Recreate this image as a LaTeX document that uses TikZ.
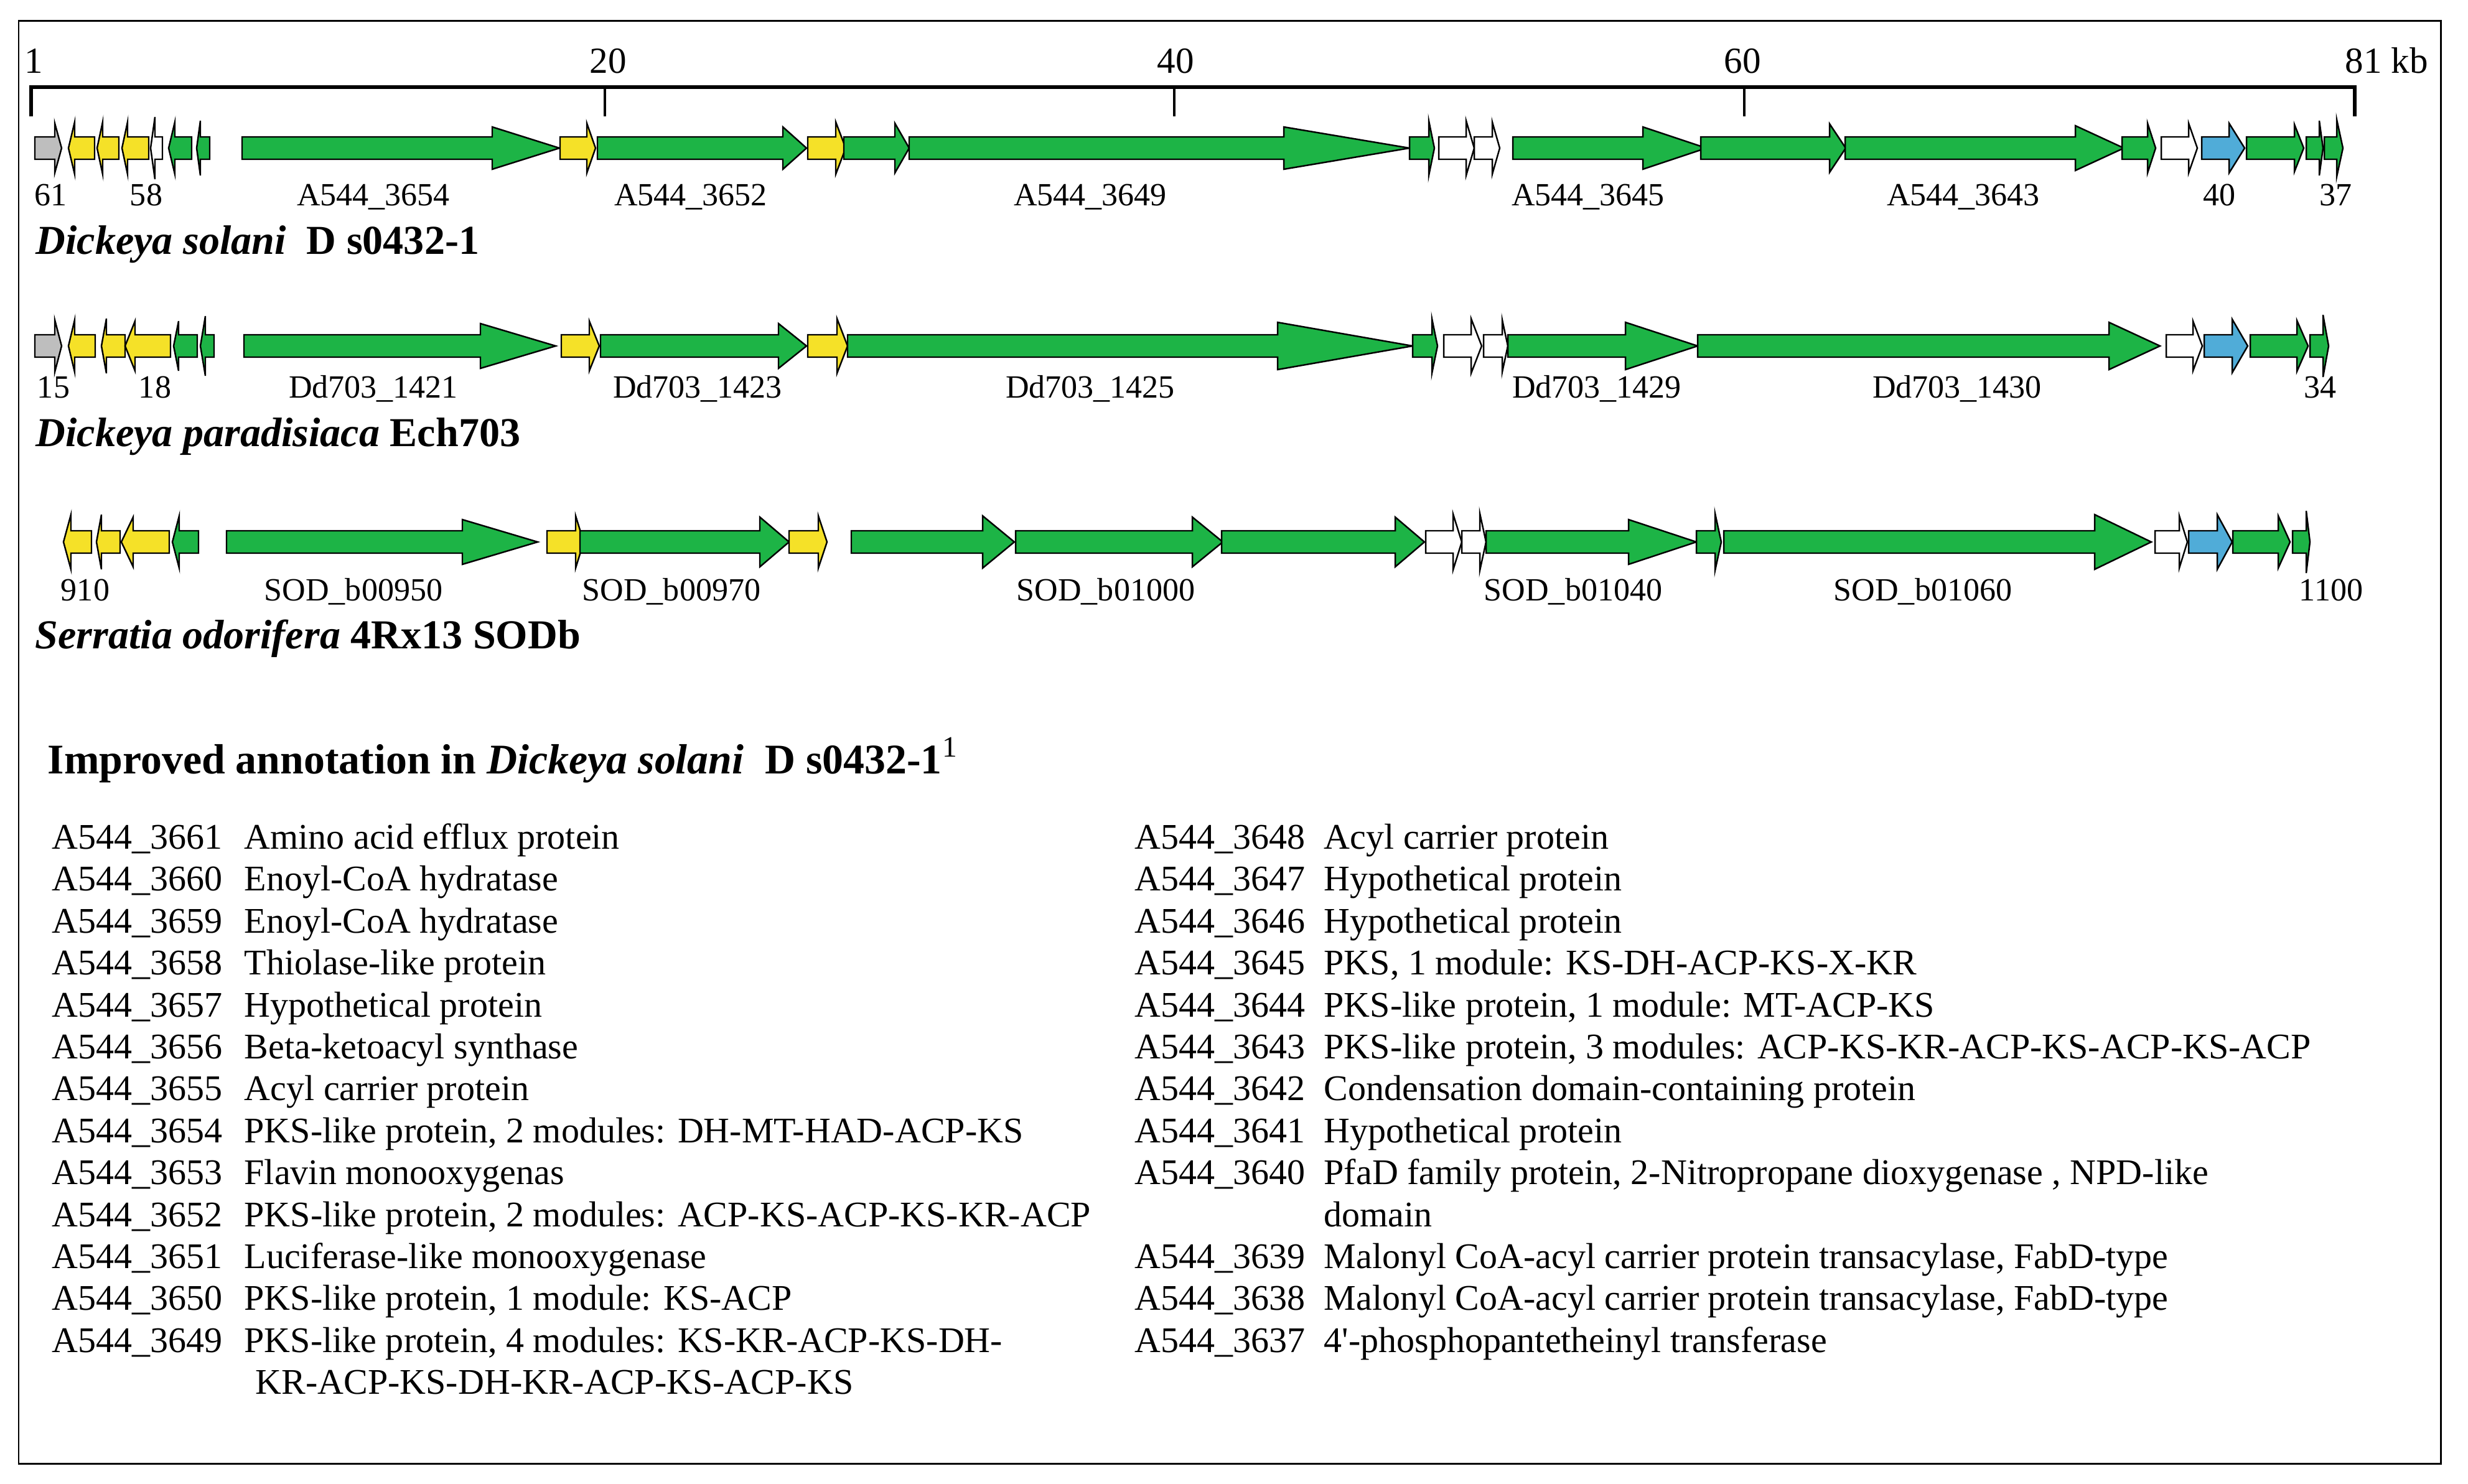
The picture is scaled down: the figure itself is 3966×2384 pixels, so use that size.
\documentclass[tikz,border=0pt]{standalone}
\usepackage{fontspec}
\setmainfont{Liberation Serif}
\definecolor{genegreen}{RGB}{29,180,70}
\definecolor{geneyellow}{RGB}{245,225,40}
\definecolor{genegrey}{RGB}{190,190,190}
\definecolor{geneblue}{RGB}{80,172,216}
\tikzset{genebox/.style={draw=black,line width=0.7pt,line join=miter},
	genelab/.style={anchor=base,font=\fontsize{14.8}{17}\selectfont,inner sep=0pt},
	scalelab/.style={anchor=base,font=\fontsize{16.8}{19}\selectfont,inner sep=0pt},
	species/.style={anchor=base west,font=\fontsize{18.8}{22}\selectfont\bfseries,inner sep=0pt},
	anno/.style={anchor=base west,font=\fontsize{16.5}{19}\selectfont,inner sep=0pt}}
% colour, y, tail x, head base x, tip x, head half height
\newcommand{\gene}[6]{%
	\filldraw[genebox,fill=#1] (#3,#2-18) -- (#4,#2-18) -- (#4,#2-#6) -- (#5,#2) -- (#4,#2+#6) -- (#4,#2+18) -- (#3,#2+18) -- cycle;}
\begin{document}
\begin{tikzpicture}[x=0.01cm,y=-0.01cm]
	\useasboundingbox (0,0) rectangle (3966,2384);
	\draw[line width=0.85pt] (30,33) rectangle (3922,2352);
	
	\draw[line width=1.7pt] (50,187) -- (50,140) -- (3784,140) -- (3784,187);
	\draw[line width=1.1pt] (972,140) -- (972,187);
	\draw[line width=1.1pt] (1887,140) -- (1887,187);
	\draw[line width=1.1pt] (2803,140) -- (2803,187);
	\node[scalelab] (s1) at (54,117) {1};
	\node[scalelab] (s20) at (977,117) {20};
	\node[scalelab] (s40) at (1889,117) {40};
	\node[scalelab] (s60) at (2800,117) {60};
	\node[scalelab,anchor=base west] (s81) at (3768,117) {81 kb};
	
	\gene{genegrey}{238}{56}{88}{99}{40}
	\gene{geneyellow}{238}{152}{120}{110}{42}
	\gene{geneyellow}{238}{191}{165}{156}{42}
	\gene{geneyellow}{238}{239}{205}{196}{42}
	\gene{white}{238}{261}{249}{242}{50}
	\gene{genegreen}{238}{308}{281}{271}{42}
	\gene{genegreen}{238}{337}{322}{316}{44}
	\gene{genegreen}{238}{389}{791}{899}{34}
	\gene{geneyellow}{238}{900}{943}{957}{40}
	\gene{genegreen}{238}{960}{1258}{1296}{34}
	\gene{geneyellow}{238}{1298}{1343}{1359}{42}
	\gene{genegreen}{238}{1356}{1438}{1461}{40}
	\gene{genegreen}{238}{1461}{2063}{2265}{34}
	\gene{genegreen}{238}{2265}{2296}{2305}{44}
	\gene{white}{238}{2312}{2356}{2369}{44}
	\gene{white}{238}{2369}{2398}{2410}{42}
	\gene{genegreen}{238}{2431}{2640}{2742}{34}
	\gene{genegreen}{238}{2733}{2940}{2966}{39}
	\gene{genegreen}{238}{2965}{3335}{3413}{36}
	\gene{genegreen}{238}{3410}{3451}{3464}{40}
	\gene{white}{238}{3473}{3517}{3531}{40}
	\gene{geneblue}{238}{3538}{3582}{3607}{40}
	\gene{genegreen}{238}{3610}{3687}{3702}{38}
	\gene{genegreen}{238}{3706}{3727}{3733}{44}
	\gene{genegreen}{238}{3735}{3755}{3765}{46}
	\node[genelab] (a61) at (82,330) {61};
	\node[genelab] (a58) at (235,330) {58};
	\node[genelab] (a54) at (600,330) {A544\_3654};
	\node[genelab] (a52) at (1110,330) {A544\_3652};
	\node[genelab] (a49) at (1752,330) {A544\_3649};
	\node[genelab] (a45) at (2552,330) {A544\_3645};
	\node[genelab] (a43) at (3155,330) {A544\_3643};
	\node[genelab] (a40) at (3566,330) {40};
	\node[genelab] (a37) at (3753,330) {37};
	\node[species] (t1) at (57,408) {\itshape Dickeya solani\upshape\ \ D s0432-1};
	
	\gene{genegrey}{556}{56}{88}{99}{42}
	\gene{geneyellow}{556}{153}{120}{110}{42}
	\gene{geneyellow}{556}{201}{171}{163}{44}
	\gene{geneyellow}{556}{274}{217}{201}{40}
	\gene{genegreen}{556}{317}{287}{279}{40}
	\gene{genegreen}{556}{344}{330}{322}{48}
	\gene{genegreen}{556}{392}{772}{893}{36}
	\gene{geneyellow}{556}{902}{947}{963}{40}
	\gene{genegreen}{556}{965}{1251}{1296}{36}
	\gene{geneyellow}{556}{1298}{1345}{1362}{44}
	\gene{genegreen}{556}{1362}{2053}{2270}{38}
	\gene{genegreen}{556}{2270}{2301}{2310}{44}
	\gene{white}{556}{2320}{2364}{2381}{44}
	\gene{white}{556}{2384}{2414}{2423}{42}
	\gene{genegreen}{556}{2423}{2612}{2728}{38}
	\gene{genegreen}{556}{2728}{3389}{3471}{38}
	\gene{white}{556}{3481}{3524}{3539}{40}
	\gene{geneblue}{556}{3542}{3587}{3612}{43}
	\gene{genegreen}{556}{3616}{3691}{3709}{41}
	\gene{genegreen}{556}{3712}{3733}{3742}{50}
	\node[genelab] (b15) at (86,639) {15};
	\node[genelab] (b18) at (249,639) {18};
	\node[genelab] (b21) at (600,639) {Dd703\_1421};
	\node[genelab] (b23) at (1121,639) {Dd703\_1423};
	\node[genelab] (b25) at (1752,639) {Dd703\_1425};
	\node[genelab] (b29) at (2566,639) {Dd703\_1429};
	\node[genelab] (b30) at (3145,639) {Dd703\_1430};
	\node[genelab] (b34) at (3728,639) {34};
	\node[species] (t2) at (57,717) {\itshape Dickeya paradisiaca\upshape\ Ech703};
	
	\gene{geneyellow}{871}{147}{114}{102}{44}
	\gene{geneyellow}{871}{193}{163}{155}{44}
	\gene{geneyellow}{871}{272}{214}{195}{40}
	\gene{genegreen}{871}{319}{288}{277}{42}
	\gene{genegreen}{871}{364}{743}{864}{36}
	\gene{geneyellow}{871}{879}{925}{938}{42}
	\gene{genegreen}{871}{932}{1221}{1268}{40}
	\gene{geneyellow}{871}{1268}{1315}{1329}{42}
	\gene{genegreen}{871}{1368}{1579}{1630}{42}
	\gene{genegreen}{871}{1632}{1916}{1965}{40}
	\gene{genegreen}{871}{1963}{2242}{2289}{40}
	\gene{white}{871}{2291}{2335}{2349}{45}
	\gene{white}{871}{2349}{2378}{2388}{46}
	\gene{genegreen}{871}{2388}{2617}{2726}{36}
	\gene{genegreen}{871}{2726}{2756}{2766}{46}
	\gene{genegreen}{871}{2770}{3366}{3457}{44}
	\gene{white}{871}{3463}{3502}{3515}{42}
	\gene{geneblue}{871}{3517}{3563}{3587}{44}
	\gene{genegreen}{871}{3588}{3661}{3680}{42}
	\gene{genegreen}{871}{3684}{3706}{3712}{50}
	\node[genelab] (c910) at (137,965) {910};
	\node[genelab] (c950) at (568,965) {SOD\_b00950};
	\node[genelab] (c970) at (1079,965) {SOD\_b00970};
	\node[genelab] (c1000) at (1777,965) {SOD\_b01000};
	\node[genelab] (c1040) at (2528,965) {SOD\_b01040};
	\node[genelab] (c1060) at (3090,965) {SOD\_b01060};
	\node[genelab] (c1100) at (3746,965) {1100};
	\node[species] (t3) at (56,1042) {\itshape Serratia odorifera\upshape\ 4Rx13 SODb};
	
	\node[species,font=\fontsize{19.3}{22}\selectfont\bfseries] (ann) at (76,1243) {Improved annotation in \itshape Dickeya solani\upshape\ \ D s0432-1\textsuperscript{\mdseries 1}};
	
	\node[anno] (l1) at (83,1364) {A544\_3661};
	\node[anno] (l2) at (83,1431) {A544\_3660};
	\node[anno] (l3) at (83,1499) {A544\_3659};
	\node[anno] (l4) at (83,1566) {A544\_3658};
	\node[anno] (l5) at (83,1634) {A544\_3657};
	\node[anno] (l6) at (83,1701) {A544\_3656};
	\node[anno] (l7) at (83,1768) {A544\_3655};
	\node[anno] (l8) at (83,1836) {A544\_3654};
	\node[anno] (l9) at (83,1903) {A544\_3653};
	\node[anno] (l10) at (83,1971) {A544\_3652};
	\node[anno] (l11) at (83,2038) {A544\_3651};
	\node[anno] (l12) at (83,2105) {A544\_3650};
	\node[anno] (l13) at (83,2173) {A544\_3649};
	\node[anno] (ld1) at (392,1364) {Amino acid efflux protein};
	\node[anno] (ld2) at (392,1431) {Enoyl-CoA hydratase};
	\node[anno] (ld3) at (392,1499) {Enoyl-CoA hydratase};
	\node[anno] (ld4) at (392,1566) {Thiolase-like protein};
	\node[anno] (ld5) at (392,1634) {Hypothetical protein};
	\node[anno] (ld6) at (392,1701) {Beta-ketoacyl synthase};
	\node[anno] (ld7) at (392,1768) {Acyl carrier protein};
	\node[anno] (ld8) at (392,1836) {PKS-like protein, 2 modules: DH-MT-HAD-ACP-KS};
	\node[anno] (ld9) at (392,1903) {Flavin monooxygenas};
	\node[anno] (ld10) at (392,1971) {PKS-like protein, 2 modules: ACP-KS-ACP-KS-KR-ACP};
	\node[anno] (ld11) at (392,2038) {Luciferase-like monooxygenase};
	\node[anno] (ld12) at (392,2105) {PKS-like protein, 1 module: KS-ACP};
	\node[anno] (ld13) at (392,2173) {PKS-like protein, 4 modules: KS-KR-ACP-KS-DH-};
	\node[anno] (ld14) at (410,2240) {KR-ACP-KS-DH-KR-ACP-KS-ACP-KS};
	
	\node[anno] (r1) at (1823,1364) {A544\_3648};
	\node[anno] (r2) at (1823,1431) {A544\_3647};
	\node[anno] (r3) at (1823,1499) {A544\_3646};
	\node[anno] (r4) at (1823,1566) {A544\_3645};
	\node[anno] (r5) at (1823,1634) {A544\_3644};
	\node[anno] (r6) at (1823,1701) {A544\_3643};
	\node[anno] (r7) at (1823,1768) {A544\_3642};
	\node[anno] (r8) at (1823,1836) {A544\_3641};
	\node[anno] (r9) at (1823,1903) {A544\_3640};
	\node[anno] (r10) at (1823,2038) {A544\_3639};
	\node[anno] (r11) at (1823,2105) {A544\_3638};
	\node[anno] (r12) at (1823,2173) {A544\_3637};
	\node[anno] (rd1) at (2127,1364) {Acyl carrier protein};
	\node[anno] (rd2) at (2127,1431) {Hypothetical protein};
	\node[anno] (rd3) at (2127,1499) {Hypothetical protein};
	\node[anno] (rd4) at (2127,1566) {PKS, 1 module: KS-DH-ACP-KS-X-KR};
	\node[anno] (rd5) at (2127,1634) {PKS-like protein, 1 module: MT-ACP-KS};
	\node[anno] (rd6) at (2127,1701) {PKS-like protein, 3 modules: ACP-KS-KR-ACP-KS-ACP-KS-ACP};
	\node[anno] (rd7) at (2127,1768) {Condensation domain-containing protein};
	\node[anno] (rd8) at (2127,1836) {Hypothetical protein};
	\node[anno] (rd9) at (2127,1903) {PfaD family protein, 2-Nitropropane dioxygenase , NPD-like};
	\node[anno] (rd9b) at (2127,1971) {domain};
	\node[anno] (rd10) at (2127,2038) {Malonyl CoA-acyl carrier protein transacylase, FabD-type};
	\node[anno] (rd11) at (2127,2105) {Malonyl CoA-acyl carrier protein transacylase, FabD-type};
	\node[anno] (rd12) at (2127,2173) {4\textquotesingle-phosphopantetheinyl transferase};
\end{tikzpicture}
\end{document}
